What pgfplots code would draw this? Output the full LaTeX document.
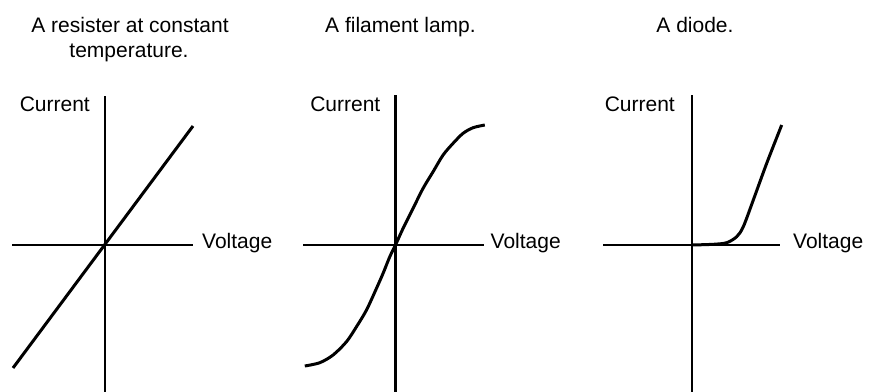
\documentclass[border=0pt]{standalone}
\usepackage{fontspec}
\setmainfont{Liberation Sans}
\usepackage{pgfplots}
\pgfplotsset{compat=1.18}

\pgfplotsset{
  ivpanel/.style={
    x=1bp, y=1bp,
    anchor=origin,
    axis lines=middle,
    axis line style={-, line width=2.8bp, black},
    xtick=\empty, ytick=\empty,
    clip=false,
  },
  ivcurve/.style={line width=3bp, black, no markers},
}
\tikzset{lbl/.style={inner sep=0pt, font=\fontsize{21bp}{25bp}\selectfont}}

\begin{document}
\begin{tikzpicture}
\path[use as bounding box] (0,0) rectangle (870bp,392bp);

% resistor
\begin{axis}[ivpanel, at={(105bp,147bp)},
  xmin=-93, xmax=88, ymin=-147, ymax=149]
\addplot[ivcurve] coordinates {(-92,-123) (88,119)};
\node[lbl, anchor=base east] at (axis cs:-15,133) {Current};
\node[lbl, anchor=base west] at (axis cs:97,-4) {Voltage};
\node[lbl, anchor=base] at (axis cs:25,212) {A resister at constant};
\node[lbl, anchor=base] at (axis cs:24,187) {temperature.};
\end{axis}

% filament lamp
\begin{axis}[ivpanel, at={(395.5bp,147bp)},
  xmin=-92.5, xmax=88, ymin=-147, ymax=150]
\addplot[ivcurve, smooth] coordinates {
  (-90.7,-121) (-75.7,-117.7) (-62.4,-110) (-49,-96.7) (-39,-81.7)
  (-29,-65) (-19,-43.3) (-12.4,-28.3) (-5.7,-11.7) (0,0)
  (7.6,16.7) (17.6,36.7) (27.6,56.7) (37.6,73.3) (47.6,90)
  (57.6,101.7) (67.6,111.7) (77.6,117.3) (89.3,120)};
\node[lbl, anchor=base east] at (axis cs:-15,133) {Current};
\node[lbl, anchor=base west] at (axis cs:95,-4) {Voltage};
\node[lbl, anchor=base] at (axis cs:5,212) {A filament lamp.};
\end{axis}

% diode
\begin{axis}[ivpanel, at={(692bp,147bp)},
  xmin=-89, xmax=88, ymin=-147, ymax=150]
\addplot[ivcurve, smooth] coordinates {
  (0,0) (21.3,0.7) (34.7,2.3) (44.7,8.3) (51.3,18.3) (61.3,45)
  (74.7,81.7) (89.7,120)};
\node[lbl, anchor=base east] at (axis cs:-17,133) {Current};
\node[lbl, anchor=base west] at (axis cs:101,-4) {Voltage};
\node[lbl, anchor=base] at (axis cs:3,212) {A diode.};
\end{axis}
\end{tikzpicture}
\end{document}
